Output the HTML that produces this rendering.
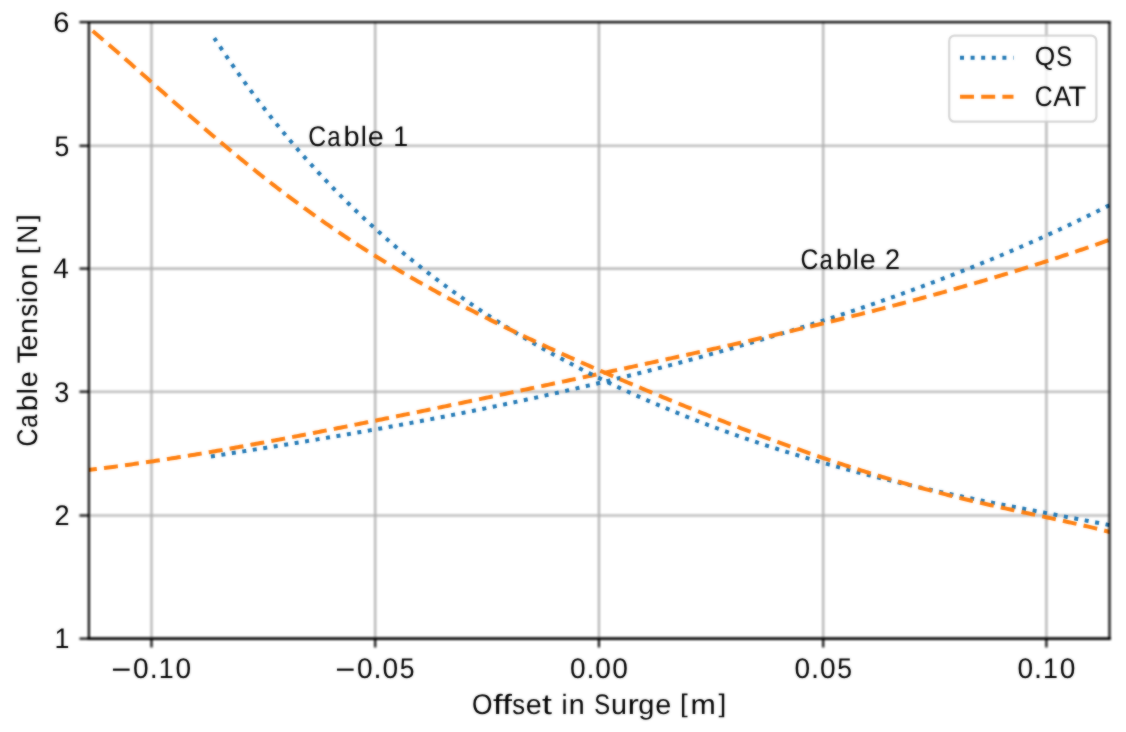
<!DOCTYPE html>
<html><head><meta charset="utf-8"><title>Cable Tension vs Offset in Surge</title><style>
html,body{margin:0;padding:0;background:#fff;width:1126px;height:732px;overflow:hidden}
svg{display:block;position:absolute;left:0;top:0}
text{text-rendering:geometricPrecision}
#wrap{position:relative;width:1126px;height:732px}
#base{will-change:transform}
#soft{filter:blur(0.8px);opacity:0.5}
</style></head><body><div id="wrap">
<svg id="base" width="1126" height="732" viewBox="0 0 1126 732">
<rect width="1126" height="732" fill="#fff"/>
<defs><clipPath id="axa"><rect x="88.9" y="22.1" width="1020.6" height="616.55"/></clipPath>
<filter id="bla" x="-0.02" y="-0.02" width="1.04" height="1.04"><feGaussianBlur stdDeviation="0.9"/></filter></defs>
<g stroke="#b0b0b0" stroke-width="2.13" fill="none" filter="url(#bla)"><line x1="151.50" y1="22.1" x2="151.50" y2="638.65"/><line x1="375.20" y1="22.1" x2="375.20" y2="638.65"/><line x1="598.95" y1="22.1" x2="598.95" y2="638.65"/><line x1="823.20" y1="22.1" x2="823.20" y2="638.65"/><line x1="1046.40" y1="22.1" x2="1046.40" y2="638.65"/><line x1="88.9" y1="515.50" x2="1109.5" y2="515.50"/><line x1="88.9" y1="391.70" x2="1109.5" y2="391.70"/><line x1="88.9" y1="268.60" x2="1109.5" y2="268.60"/><line x1="88.9" y1="145.80" x2="1109.5" y2="145.80"/></g>
<g clip-path="url(#axa)" fill="none" stroke-width="4.00">
<polyline points="210.80,456.46 212.61,456.18 214.41,455.90 216.22,455.62 218.02,455.33 219.83,455.05 221.64,454.77 223.44,454.49 225.25,454.20 227.05,453.92 228.86,453.64 230.67,453.36 232.47,453.07 234.28,452.79 236.08,452.50 237.89,452.22 239.70,451.94 241.50,451.65 243.31,451.37 245.11,451.08 246.92,450.80 248.73,450.51 250.53,450.23 252.34,449.94 254.14,449.65 255.95,449.37 257.76,449.08 259.56,448.79 261.37,448.50 263.17,448.22 264.98,447.93 266.79,447.64 268.59,447.35 270.40,447.06 272.20,446.77 274.01,446.48 275.82,446.19 277.62,445.90 279.43,445.61 281.23,445.32 283.04,445.03 284.85,444.73 286.65,444.44 288.46,444.15 290.26,443.85 292.07,443.56 293.88,443.27 295.68,442.97 297.49,442.67 299.29,442.38 301.10,442.08 302.91,441.79 304.71,441.49 306.52,441.19 308.32,440.89 310.13,440.59 311.94,440.29 313.74,439.99 315.55,439.69 317.35,439.39 319.16,439.09 320.97,438.79 322.77,438.48 324.58,438.18 326.38,437.88 328.19,437.57 330.00,437.27 331.80,436.96 333.61,436.66 335.41,436.35 337.22,436.04 339.03,435.73 340.83,435.43 342.64,435.12 344.44,434.81 346.25,434.50 348.06,434.18 349.86,433.87 351.67,433.56 353.47,433.25 355.28,432.93 357.09,432.62 358.89,432.30 360.70,431.99 362.51,431.67 364.31,431.35 366.12,431.04 367.92,430.72 369.73,430.40 371.54,430.08 373.34,429.76 375.15,429.44 376.95,429.12 378.76,428.79 380.57,428.47 382.37,428.15 384.18,427.82 385.98,427.50 387.79,427.17 389.60,426.84 391.40,426.51 393.21,426.19 395.01,425.86 396.82,425.53 398.63,425.20 400.43,424.86 402.24,424.53 404.04,424.20 405.85,423.86 407.66,423.53 409.46,423.19 411.27,422.86 413.07,422.52 414.88,422.18 416.69,421.84 418.49,421.50 420.30,421.16 422.10,420.82 423.91,420.48 425.72,420.14 427.52,419.80 429.33,419.45 431.13,419.11 432.94,418.76 434.75,418.41 436.55,418.07 438.36,417.72 440.16,417.37 441.97,417.02 443.78,416.67 445.58,416.31 447.39,415.96 449.19,415.61 451.00,415.25 452.81,414.90 454.61,414.54 456.42,414.19 458.22,413.83 460.03,413.47 461.84,413.11 463.64,412.75 465.45,412.39 467.25,412.03 469.06,411.66 470.87,411.30 472.67,410.93 474.48,410.57 476.28,410.20 478.09,409.83 479.90,409.46 481.70,409.09 483.51,408.72 485.31,408.35 487.12,407.98 488.93,407.61 490.73,407.23 492.54,406.86 494.34,406.48 496.15,406.11 497.96,405.73 499.76,405.35 501.57,404.97 503.37,404.59 505.18,404.21 506.99,403.83 508.79,403.44 510.60,403.06 512.40,402.67 514.21,402.29 516.02,401.90 517.82,401.51 519.63,401.12 521.43,400.73 523.24,400.34 525.05,399.95 526.85,399.56 528.66,399.16 530.46,398.77 532.27,398.37 534.08,397.98 535.88,397.58 537.69,397.18 539.49,396.78 541.30,396.38 543.11,395.98 544.91,395.58 546.72,395.17 548.52,394.77 550.33,394.36 552.14,393.96 553.94,393.55 555.75,393.14 557.55,392.73 559.36,392.32 561.17,391.91 562.97,391.50 564.78,391.09 566.58,390.67 568.39,390.26 570.20,389.84 572.00,389.42 573.81,389.00 575.61,388.58 577.42,388.16 579.23,387.74 581.03,387.32 582.84,386.90 584.64,386.47 586.45,386.05 588.26,385.62 590.06,385.19 591.87,384.76 593.67,384.33 595.48,383.90 597.29,383.47 599.09,383.04 600.90,382.61 602.70,382.17 604.51,381.73 606.32,381.30 608.12,380.86 609.93,380.42 611.73,379.98 613.54,379.54 615.35,379.10 617.15,378.66 618.96,378.21 620.76,377.77 622.57,377.32 624.38,376.87 626.18,376.42 627.99,375.97 629.79,375.52 631.60,375.07 633.41,374.62 635.21,374.17 637.02,373.71 638.82,373.25 640.63,372.80 642.44,372.34 644.24,371.88 646.05,371.42 647.85,370.96 649.66,370.50 651.47,370.03 653.27,369.57 655.08,369.10 656.88,368.64 658.69,368.17 660.50,367.70 662.30,367.23 664.11,366.76 665.92,366.29 667.72,365.81 669.53,365.34 671.33,364.86 673.14,364.39 674.95,363.91 676.75,363.43 678.56,362.95 680.36,362.47 682.17,361.98 683.98,361.50 685.78,361.02 687.59,360.53 689.39,360.04 691.20,359.56 693.01,359.07 694.81,358.58 696.62,358.08 698.42,357.59 700.23,357.10 702.04,356.60 703.84,356.11 705.65,355.61 707.45,355.11 709.26,354.61 711.07,354.11 712.87,353.61 714.68,353.11 716.48,352.60 718.29,352.10 720.10,351.59 721.90,351.08 723.71,350.57 725.51,350.06 727.32,349.55 729.13,349.04 730.93,348.52 732.74,348.01 734.54,347.49 736.35,346.97 738.16,346.46 739.96,345.94 741.77,345.41 743.57,344.89 745.38,344.37 747.19,343.84 748.99,343.32 750.80,342.79 752.60,342.26 754.41,341.73 756.22,341.20 758.02,340.67 759.83,340.13 761.63,339.60 763.44,339.06 765.25,338.53 767.05,337.99 768.86,337.45 770.66,336.91 772.47,336.36 774.28,335.82 776.08,335.27 777.89,334.73 779.69,334.18 781.50,333.63 783.31,333.08 785.11,332.53 786.92,331.98 788.72,331.42 790.53,330.87 792.34,330.31 794.14,329.75 795.95,329.19 797.75,328.63 799.56,328.07 801.37,327.50 803.17,326.94 804.98,326.37 806.78,325.81 808.59,325.24 810.40,324.67 812.20,324.09 814.01,323.52 815.81,322.95 817.62,322.37 819.43,321.79 821.23,321.21 823.04,320.63 824.84,320.05 826.65,319.47 828.46,318.88 830.26,318.30 832.07,317.71 833.87,317.12 835.68,316.53 837.49,315.94 839.29,315.34 841.10,314.75 842.90,314.15 844.71,313.55 846.52,312.95 848.32,312.35 850.13,311.75 851.93,311.15 853.74,310.54 855.55,309.94 857.35,309.33 859.16,308.72 860.96,308.11 862.77,307.49 864.58,306.88 866.38,306.26 868.19,305.64 869.99,305.02 871.80,304.40 873.61,303.78 875.41,303.16 877.22,302.53 879.02,301.90 880.83,301.27 882.64,300.64 884.44,300.01 886.25,299.38 888.05,298.74 889.86,298.10 891.67,297.47 893.47,296.83 895.28,296.18 897.08,295.54 898.89,294.89 900.70,294.25 902.50,293.60 904.31,292.95 906.11,292.29 907.92,291.64 909.73,290.98 911.53,290.33 913.34,289.67 915.14,289.01 916.95,288.34 918.76,287.68 920.56,287.01 922.37,286.34 924.17,285.67 925.98,285.00 927.79,284.33 929.59,283.65 931.40,282.97 933.20,282.29 935.01,281.61 936.82,280.93 938.62,280.24 940.43,279.56 942.23,278.87 944.04,278.18 945.85,277.48 947.65,276.79 949.46,276.09 951.26,275.39 953.07,274.69 954.88,273.99 956.68,273.29 958.49,272.58 960.29,271.87 962.10,271.16 963.91,270.45 965.71,269.73 967.52,269.02 969.33,268.30 971.13,267.58 972.94,266.85 974.74,266.13 976.55,265.40 978.36,264.67 980.16,263.94 981.97,263.21 983.77,262.47 985.58,261.73 987.39,260.99 989.19,260.25 991.00,259.51 992.80,258.76 994.61,258.01 996.42,257.26 998.22,256.51 1000.03,255.75 1001.83,254.99 1003.64,254.23 1005.45,253.47 1007.25,252.70 1009.06,251.94 1010.86,251.17 1012.67,250.40 1014.48,249.62 1016.28,248.84 1018.09,248.07 1019.89,247.28 1021.70,246.50 1023.51,245.71 1025.31,244.92 1027.12,244.13 1028.92,243.34 1030.73,242.54 1032.54,241.74 1034.34,240.94 1036.15,240.14 1037.95,239.33 1039.76,238.52 1041.57,237.71 1043.37,236.90 1045.18,236.08 1046.98,235.26 1048.79,234.44 1050.60,233.62 1052.40,232.79 1054.21,231.96 1056.01,231.13 1057.82,230.29 1059.63,229.45 1061.43,228.61 1063.24,227.77 1065.04,226.92 1066.85,226.07 1068.66,225.22 1070.46,224.36 1072.27,223.51 1074.07,222.65 1075.88,221.78 1077.69,220.92 1079.49,220.05 1081.30,219.17 1083.10,218.30 1084.91,217.42 1086.72,216.54 1088.52,215.66 1090.33,214.77 1092.13,213.88 1093.94,212.99 1095.75,212.09 1097.55,211.19 1099.36,210.29 1101.16,209.38 1102.97,208.47 1104.78,207.56 1106.58,206.65 1108.39,205.73 1110.19,204.81 1112.00,203.88" stroke="#1f77b4" stroke-dasharray="4.0 6.6" stroke-dashoffset="10.51"/>
<polyline points="88.00,469.94 90.05,469.70 92.10,469.46 94.16,469.22 96.21,468.97 98.26,468.72 100.31,468.47 102.36,468.22 104.42,467.96 106.47,467.71 108.52,467.44 110.57,467.18 112.63,466.92 114.68,466.65 116.73,466.38 118.78,466.11 120.83,465.83 122.89,465.56 124.94,465.28 126.99,465.00 129.04,464.72 131.09,464.43 133.15,464.14 135.20,463.85 137.25,463.56 139.30,463.27 141.35,462.97 143.41,462.68 145.46,462.38 147.51,462.08 149.56,461.77 151.62,461.47 153.67,461.16 155.72,460.85 157.77,460.54 159.82,460.23 161.88,459.92 163.93,459.60 165.98,459.28 168.03,458.96 170.08,458.64 172.14,458.32 174.19,457.99 176.24,457.67 178.29,457.34 180.34,457.01 182.40,456.68 184.45,456.34 186.50,456.01 188.55,455.67 190.61,455.34 192.66,455.00 194.71,454.66 196.76,454.32 198.81,453.97 200.87,453.63 202.92,453.28 204.97,452.93 207.02,452.59 209.07,452.23 211.13,451.88 213.18,451.53 215.23,451.18 217.28,450.82 219.33,450.46 221.39,450.11 223.44,449.75 225.49,449.39 227.54,449.02 229.60,448.66 231.65,448.30 233.70,447.93 235.75,447.56 237.80,447.20 239.86,446.83 241.91,446.46 243.96,446.09 246.01,445.71 248.06,445.34 250.12,444.97 252.17,444.59 254.22,444.22 256.27,443.84 258.32,443.46 260.38,443.08 262.43,442.70 264.48,442.32 266.53,441.94 268.59,441.56 270.64,441.17 272.69,440.79 274.74,440.40 276.79,440.01 278.85,439.63 280.90,439.24 282.95,438.85 285.00,438.46 287.05,438.07 289.11,437.68 291.16,437.29 293.21,436.89 295.26,436.50 297.31,436.10 299.37,435.71 301.42,435.31 303.47,434.92 305.52,434.52 307.58,434.12 309.63,433.72 311.68,433.32 313.73,432.92 315.78,432.52 317.84,432.12 319.89,431.72 321.94,431.32 323.99,430.91 326.04,430.51 328.10,430.11 330.15,429.70 332.20,429.30 334.25,428.89 336.30,428.48 338.36,428.08 340.41,427.67 342.46,427.26 344.51,426.85 346.57,426.44 348.62,426.03 350.67,425.62 352.72,425.21 354.77,424.80 356.83,424.39 358.88,423.98 360.93,423.56 362.98,423.15 365.03,422.74 367.09,422.32 369.14,421.91 371.19,421.50 373.24,421.08 375.29,420.67 377.35,420.25 379.40,419.83 381.45,419.42 383.50,419.00 385.56,418.58 387.61,418.17 389.66,417.75 391.71,417.33 393.76,416.91 395.82,416.49 397.87,416.07 399.92,415.65 401.97,415.23 404.02,414.81 406.08,414.39 408.13,413.97 410.18,413.55 412.23,413.13 414.28,412.71 416.34,412.28 418.39,411.86 420.44,411.44 422.49,411.02 424.55,410.59 426.60,410.17 428.65,409.75 430.70,409.32 432.75,408.90 434.81,408.47 436.86,408.05 438.91,407.62 440.96,407.20 443.01,406.77 445.07,406.35 447.12,405.92 449.17,405.50 451.22,405.07 453.27,404.65 455.33,404.22 457.38,403.79 459.43,403.37 461.48,402.94 463.54,402.51 465.59,402.08 467.64,401.66 469.69,401.23 471.74,400.80 473.80,400.37 475.85,399.94 477.90,399.51 479.95,399.09 482.00,398.66 484.06,398.23 486.11,397.80 488.16,397.37 490.21,396.94 492.26,396.51 494.32,396.08 496.37,395.65 498.42,395.22 500.47,394.79 502.53,394.36 504.58,393.93 506.63,393.49 508.68,393.06 510.73,392.63 512.79,392.20 514.84,391.77 516.89,391.34 518.94,390.90 520.99,390.47 523.05,390.04 525.10,389.61 527.15,389.17 529.20,388.74 531.25,388.31 533.31,387.88 535.36,387.44 537.41,387.01 539.46,386.57 541.52,386.14 543.57,385.71 545.62,385.27 547.67,384.84 549.72,384.40 551.78,383.97 553.83,383.53 555.88,383.10 557.93,382.66 559.98,382.23 562.04,381.79 564.09,381.36 566.14,380.92 568.19,380.48 570.24,380.05 572.30,379.61 574.35,379.17 576.40,378.74 578.45,378.30 580.51,377.86 582.56,377.42 584.61,376.99 586.66,376.55 588.71,376.11 590.77,375.67 592.82,375.23 594.87,374.79 596.92,374.35 598.97,373.91 601.03,373.47 603.08,373.03 605.13,372.59 607.18,372.15 609.23,371.71 611.29,371.27 613.34,370.83 615.39,370.39 617.44,369.95 619.49,369.51 621.55,369.06 623.60,368.62 625.65,368.18 627.70,367.73 629.76,367.29 631.81,366.85 633.86,366.40 635.91,365.96 637.96,365.51 640.02,365.07 642.07,364.62 644.12,364.18 646.17,363.73 648.22,363.29 650.28,362.84 652.33,362.39 654.38,361.95 656.43,361.50 658.48,361.05 660.54,360.60 662.59,360.15 664.64,359.70 666.69,359.25 668.75,358.80 670.80,358.35 672.85,357.90 674.90,357.45 676.95,357.00 679.01,356.55 681.06,356.10 683.11,355.64 685.16,355.19 687.21,354.74 689.27,354.28 691.32,353.83 693.37,353.37 695.42,352.92 697.47,352.46 699.53,352.01 701.58,351.55 703.63,351.09 705.68,350.63 707.74,350.18 709.79,349.72 711.84,349.26 713.89,348.80 715.94,348.34 718.00,347.88 720.05,347.41 722.10,346.95 724.15,346.49 726.20,346.03 728.26,345.56 730.31,345.10 732.36,344.63 734.41,344.17 736.46,343.70 738.52,343.24 740.57,342.77 742.62,342.30 744.67,341.83 746.73,341.36 748.78,340.89 750.83,340.42 752.88,339.95 754.93,339.48 756.99,339.01 759.04,338.53 761.09,338.06 763.14,337.59 765.19,337.11 767.25,336.64 769.30,336.16 771.35,335.68 773.40,335.20 775.45,334.72 777.51,334.24 779.56,333.76 781.61,333.28 783.66,332.80 785.72,332.32 787.77,331.83 789.82,331.35 791.87,330.87 793.92,330.38 795.98,329.89 798.03,329.40 800.08,328.92 802.13,328.43 804.18,327.94 806.24,327.45 808.29,326.95 810.34,326.46 812.39,325.97 814.44,325.47 816.50,324.98 818.55,324.48 820.60,323.98 822.65,323.48 824.71,322.99 826.76,322.48 828.81,321.98 830.86,321.48 832.91,320.98 834.97,320.47 837.02,319.97 839.07,319.46 841.12,318.95 843.17,318.45 845.23,317.94 847.28,317.43 849.33,316.92 851.38,316.40 853.43,315.89 855.49,315.37 857.54,314.86 859.59,314.34 861.64,313.82 863.70,313.30 865.75,312.78 867.80,312.26 869.85,311.74 871.90,311.21 873.96,310.69 876.01,310.16 878.06,309.64 880.11,309.11 882.16,308.58 884.22,308.05 886.27,307.51 888.32,306.98 890.37,306.45 892.42,305.91 894.48,305.37 896.53,304.83 898.58,304.29 900.63,303.75 902.69,303.21 904.74,302.66 906.79,302.12 908.84,301.57 910.89,301.02 912.95,300.48 915.00,299.92 917.05,299.37 919.10,298.82 921.15,298.26 923.21,297.71 925.26,297.15 927.31,296.59 929.36,296.03 931.41,295.47 933.47,294.90 935.52,294.34 937.57,293.77 939.62,293.20 941.68,292.63 943.73,292.06 945.78,291.49 947.83,290.91 949.88,290.34 951.94,289.76 953.99,289.18 956.04,288.60 958.09,288.02 960.14,287.43 962.20,286.85 964.25,286.26 966.30,285.67 968.35,285.08 970.40,284.49 972.46,283.90 974.51,283.30 976.56,282.70 978.61,282.11 980.67,281.51 982.72,280.90 984.77,280.30 986.82,279.69 988.87,279.09 990.93,278.48 992.98,277.87 995.03,277.25 997.08,276.64 999.13,276.02 1001.19,275.40 1003.24,274.78 1005.29,274.16 1007.34,273.54 1009.39,272.91 1011.45,272.28 1013.50,271.65 1015.55,271.02 1017.60,270.39 1019.66,269.75 1021.71,269.12 1023.76,268.48 1025.81,267.84 1027.86,267.19 1029.92,266.55 1031.97,265.90 1034.02,265.25 1036.07,264.60 1038.12,263.95 1040.18,263.29 1042.23,262.64 1044.28,261.98 1046.33,261.32 1048.38,260.65 1050.44,259.99 1052.49,259.32 1054.54,258.65 1056.59,257.98 1058.65,257.31 1060.70,256.63 1062.75,255.95 1064.80,255.27 1066.85,254.59 1068.91,253.91 1070.96,253.22 1073.01,252.53 1075.06,251.84 1077.11,251.15 1079.17,250.45 1081.22,249.75 1083.27,249.05 1085.32,248.35 1087.37,247.65 1089.43,246.94 1091.48,246.23 1093.53,245.52 1095.58,244.81 1097.64,244.09 1099.69,243.37 1101.74,242.65 1103.79,241.93 1105.84,241.20 1107.90,240.48 1109.95,239.75 1112.00,239.01" stroke="#ff7f0e" stroke-dasharray="14.0 7.19" stroke-dashoffset="5.1"/>
<polyline points="214.30,38.05 216.10,40.80 217.90,43.54 219.70,46.25 221.50,48.95 223.29,51.63 225.09,54.30 226.89,56.95 228.69,59.58 230.49,62.20 232.29,64.80 234.09,67.39 235.89,69.96 237.69,72.51 239.49,75.05 241.28,77.57 243.08,80.08 244.88,82.57 246.68,85.05 248.48,87.51 250.28,89.96 252.08,92.39 253.88,94.80 255.68,97.21 257.48,99.59 259.27,101.97 261.07,104.33 262.87,106.67 264.67,109.00 266.47,111.32 268.27,113.62 270.07,115.91 271.87,118.18 273.67,120.44 275.47,122.69 277.26,124.92 279.06,127.14 280.86,129.35 282.66,131.55 284.46,133.73 286.26,135.89 288.06,138.05 289.86,140.19 291.66,142.32 293.46,144.44 295.25,146.54 297.05,148.63 298.85,150.71 300.65,152.78 302.45,154.84 304.25,156.88 306.05,158.91 307.85,160.93 309.65,162.94 311.45,164.93 313.24,166.91 315.04,168.89 316.84,170.85 318.64,172.80 320.44,174.73 322.24,176.66 324.04,178.58 325.84,180.48 327.64,182.37 329.44,184.26 331.23,186.13 333.03,187.99 334.83,189.84 336.63,191.68 338.43,193.51 340.23,195.32 342.03,197.13 343.83,198.93 345.63,200.72 347.43,202.49 349.22,204.26 351.02,206.02 352.82,207.77 354.62,209.50 356.42,211.23 358.22,212.95 360.02,214.66 361.82,216.36 363.62,218.04 365.42,219.72 367.21,221.39 369.01,223.06 370.81,224.71 372.61,226.35 374.41,227.98 376.21,229.61 378.01,231.22 379.81,232.83 381.61,234.43 383.41,236.02 385.20,237.60 387.00,239.17 388.80,240.73 390.60,242.29 392.40,243.83 394.20,245.37 396.00,246.90 397.80,248.42 399.60,249.93 401.40,251.44 403.19,252.93 404.99,254.42 406.79,255.90 408.59,257.37 410.39,258.84 412.19,260.30 413.99,261.75 415.79,263.19 417.59,264.62 419.39,266.05 421.18,267.47 422.98,268.88 424.78,270.28 426.58,271.68 428.38,273.07 430.18,274.45 431.98,275.82 433.78,277.19 435.58,278.55 437.38,279.90 439.17,281.25 440.97,282.59 442.77,283.92 444.57,285.25 446.37,286.57 448.17,287.88 449.97,289.18 451.77,290.48 453.57,291.78 455.37,293.06 457.16,294.34 458.96,295.61 460.76,296.88 462.56,298.14 464.36,299.39 466.16,300.64 467.96,301.88 469.76,303.12 471.56,304.34 473.36,305.57 475.15,306.78 476.95,307.99 478.75,309.20 480.55,310.40 482.35,311.59 484.15,312.78 485.95,313.96 487.75,315.13 489.55,316.30 491.35,317.47 493.14,318.62 494.94,319.78 496.74,320.92 498.54,322.06 500.34,323.20 502.14,324.33 503.94,325.45 505.74,326.57 507.54,327.69 509.34,328.80 511.13,329.90 512.93,331.00 514.73,332.09 516.53,333.18 518.33,334.26 520.13,335.34 521.93,336.41 523.73,337.48 525.53,338.54 527.33,339.60 529.12,340.65 530.92,341.70 532.72,342.74 534.52,343.78 536.32,344.81 538.12,345.84 539.92,346.87 541.72,347.88 543.52,348.90 545.32,349.91 547.11,350.91 548.91,351.91 550.71,352.91 552.51,353.90 554.31,354.89 556.11,355.87 557.91,356.84 559.71,357.82 561.51,358.79 563.31,359.75 565.10,360.71 566.90,361.67 568.70,362.62 570.50,363.56 572.30,364.51 574.10,365.45 575.90,366.38 577.70,367.31 579.50,368.24 581.30,369.16 583.09,370.08 584.89,370.99 586.69,371.90 588.49,372.80 590.29,373.71 592.09,374.60 593.89,375.50 595.69,376.39 597.49,377.27 599.29,378.15 601.08,379.03 602.88,379.91 604.68,380.78 606.48,381.64 608.28,382.51 610.08,383.36 611.88,384.22 613.68,385.07 615.48,385.92 617.28,386.76 619.07,387.60 620.87,388.44 622.67,389.27 624.47,390.10 626.27,390.93 628.07,391.75 629.87,392.57 631.67,393.38 633.47,394.20 635.27,395.00 637.06,395.81 638.86,396.61 640.66,397.41 642.46,398.20 644.26,398.99 646.06,399.78 647.86,400.56 649.66,401.34 651.46,402.12 653.26,402.89 655.05,403.67 656.85,404.43 658.65,405.20 660.45,405.96 662.25,406.72 664.05,407.47 665.85,408.22 667.65,408.97 669.45,409.71 671.25,410.45 673.04,411.19 674.84,411.93 676.64,412.66 678.44,413.39 680.24,414.11 682.04,414.84 683.84,415.56 685.64,416.27 687.44,416.99 689.24,417.70 691.03,418.40 692.83,419.11 694.63,419.81 696.43,420.51 698.23,421.20 700.03,421.90 701.83,422.59 703.63,423.27 705.43,423.96 707.23,424.64 709.02,425.31 710.82,425.99 712.62,426.66 714.42,427.33 716.22,428.00 718.02,428.66 719.82,429.32 721.62,429.98 723.42,430.63 725.22,431.28 727.01,431.93 728.81,432.58 730.61,433.22 732.41,433.86 734.21,434.50 736.01,435.14 737.81,435.77 739.61,436.40 741.41,437.03 743.21,437.65 745.00,438.27 746.80,438.89 748.60,439.51 750.40,440.12 752.20,440.73 754.00,441.34 755.80,441.95 757.60,442.55 759.40,443.15 761.20,443.75 762.99,444.35 764.79,444.94 766.59,445.53 768.39,446.12 770.19,446.70 771.99,447.29 773.79,447.87 775.59,448.44 777.39,449.02 779.19,449.59 780.98,450.16 782.78,450.73 784.58,451.29 786.38,451.86 788.18,452.42 789.98,452.97 791.78,453.53 793.58,454.08 795.38,454.63 797.18,455.18 798.97,455.73 800.77,456.27 802.57,456.81 804.37,457.35 806.17,457.89 807.97,458.42 809.77,458.95 811.57,459.48 813.37,460.01 815.17,460.53 816.96,461.05 818.76,461.57 820.56,462.09 822.36,462.61 824.16,463.12 825.96,463.63 827.76,464.14 829.56,464.65 831.36,465.15 833.16,465.65 834.95,466.15 836.75,466.65 838.55,467.14 840.35,467.64 842.15,468.13 843.95,468.62 845.75,469.10 847.55,469.59 849.35,470.07 851.15,470.55 852.94,471.03 854.74,471.51 856.54,471.98 858.34,472.45 860.14,472.92 861.94,473.39 863.74,473.85 865.54,474.32 867.34,474.78 869.14,475.24 870.93,475.70 872.73,476.15 874.53,476.61 876.33,477.06 878.13,477.51 879.93,477.96 881.73,478.40 883.53,478.85 885.33,479.29 887.13,479.73 888.92,480.17 890.72,480.60 892.52,481.04 894.32,481.47 896.12,481.90 897.92,482.33 899.72,482.76 901.52,483.19 903.32,483.61 905.12,484.03 906.91,484.45 908.71,484.87 910.51,485.29 912.31,485.70 914.11,486.12 915.91,486.53 917.71,486.94 919.51,487.35 921.31,487.75 923.11,488.16 924.90,488.56 926.70,488.96 928.50,489.36 930.30,489.76 932.10,490.16 933.90,490.56 935.70,490.95 937.50,491.34 939.30,491.74 941.10,492.13 942.89,492.51 944.69,492.90 946.49,493.29 948.29,493.67 950.09,494.05 951.89,494.43 953.69,494.81 955.49,495.19 957.29,495.57 959.09,495.95 960.88,496.32 962.68,496.70 964.48,497.07 966.28,497.44 968.08,497.81 969.88,498.18 971.68,498.54 973.48,498.91 975.28,499.28 977.08,499.64 978.87,500.00 980.67,500.37 982.47,500.73 984.27,501.09 986.07,501.45 987.87,501.80 989.67,502.16 991.47,502.52 993.27,502.87 995.07,503.23 996.86,503.58 998.66,503.93 1000.46,504.28 1002.26,504.64 1004.06,504.99 1005.86,505.33 1007.66,505.68 1009.46,506.03 1011.26,506.38 1013.06,506.73 1014.85,507.07 1016.65,507.42 1018.45,507.76 1020.25,508.11 1022.05,508.45 1023.85,508.79 1025.65,509.14 1027.45,509.48 1029.25,509.82 1031.05,510.16 1032.84,510.50 1034.64,510.84 1036.44,511.18 1038.24,511.52 1040.04,511.86 1041.84,512.20 1043.64,512.54 1045.44,512.88 1047.24,513.22 1049.04,513.56 1050.83,513.90 1052.63,514.24 1054.43,514.58 1056.23,514.92 1058.03,515.26 1059.83,515.60 1061.63,515.93 1063.43,516.27 1065.23,516.61 1067.03,516.95 1068.82,517.29 1070.62,517.63 1072.42,517.97 1074.22,518.32 1076.02,518.66 1077.82,519.00 1079.62,519.34 1081.42,519.68 1083.22,520.03 1085.02,520.37 1086.81,520.72 1088.61,521.06 1090.41,521.41 1092.21,521.75 1094.01,522.10 1095.81,522.45 1097.61,522.80 1099.41,523.15 1101.21,523.50 1103.01,523.85 1104.80,524.20 1106.60,524.55 1108.40,524.91 1110.20,525.26 1112.00,525.62" stroke="#1f77b4" stroke-dasharray="4.0 6.6" stroke-dashoffset="0.22"/>
<polyline points="88.00,27.07 90.05,28.77 92.10,30.49 94.16,32.21 96.21,33.93 98.26,35.66 100.31,37.40 102.36,39.15 104.42,40.90 106.47,42.66 108.52,44.42 110.57,46.19 112.63,47.96 114.68,49.74 116.73,51.52 118.78,53.31 120.83,55.09 122.89,56.89 124.94,58.68 126.99,60.48 129.04,62.28 131.09,64.09 133.15,65.89 135.20,67.70 137.25,69.51 139.30,71.32 141.35,73.13 143.41,74.94 145.46,76.76 147.51,78.57 149.56,80.39 151.62,82.20 153.67,84.02 155.72,85.83 157.77,87.65 159.82,89.46 161.88,91.28 163.93,93.09 165.98,94.90 168.03,96.71 170.08,98.52 172.14,100.33 174.19,102.13 176.24,103.93 178.29,105.74 180.34,107.53 182.40,109.33 184.45,111.13 186.50,112.92 188.55,114.71 190.61,116.49 192.66,118.28 194.71,120.05 196.76,121.83 198.81,123.60 200.87,125.37 202.92,127.14 204.97,128.90 207.02,130.66 209.07,132.41 211.13,134.16 213.18,135.91 215.23,137.65 217.28,139.39 219.33,141.12 221.39,142.85 223.44,144.57 225.49,146.29 227.54,148.00 229.60,149.71 231.65,151.42 233.70,153.11 235.75,154.81 237.80,156.50 239.86,158.18 241.91,159.86 243.96,161.53 246.01,163.20 248.06,164.86 250.12,166.51 252.17,168.16 254.22,169.81 256.27,171.45 258.32,173.08 260.38,174.71 262.43,176.33 264.48,177.94 266.53,179.55 268.59,181.16 270.64,182.75 272.69,184.35 274.74,185.93 276.79,187.51 278.85,189.08 280.90,190.65 282.95,192.21 285.00,193.77 287.05,195.32 289.11,196.86 291.16,198.39 293.21,199.92 295.26,201.45 297.31,202.96 299.37,204.48 301.42,205.98 303.47,207.48 305.52,208.97 307.58,210.46 309.63,211.94 311.68,213.41 313.73,214.87 315.78,216.34 317.84,217.79 319.89,219.24 321.94,220.68 323.99,222.11 326.04,223.54 328.10,224.97 330.15,226.38 332.20,227.79 334.25,229.20 336.30,230.59 338.36,231.99 340.41,233.37 342.46,234.75 344.51,236.12 346.57,237.49 348.62,238.85 350.67,240.20 352.72,241.55 354.77,242.90 356.83,244.23 358.88,245.56 360.93,246.89 362.98,248.21 365.03,249.52 367.09,250.83 369.14,252.13 371.19,253.42 373.24,254.71 375.29,255.99 377.35,257.27 379.40,258.54 381.45,259.81 383.50,261.07 385.56,262.33 387.61,263.58 389.66,264.82 391.71,266.06 393.76,267.29 395.82,268.52 397.87,269.74 399.92,270.96 401.97,272.17 404.02,273.38 406.08,274.58 408.13,275.78 410.18,276.97 412.23,278.15 414.28,279.33 416.34,280.51 418.39,281.68 420.44,282.84 422.49,284.01 424.55,285.16 426.60,286.31 428.65,287.46 430.70,288.60 432.75,289.74 434.81,290.87 436.86,292.00 438.91,293.12 440.96,294.24 443.01,295.36 445.07,296.47 447.12,297.57 449.17,298.67 451.22,299.77 453.27,300.86 455.33,301.95 457.38,303.03 459.43,304.11 461.48,305.19 463.54,306.26 465.59,307.33 467.64,308.40 469.69,309.46 471.74,310.51 473.80,311.56 475.85,312.61 477.90,313.66 479.95,314.70 482.00,315.74 484.06,316.77 486.11,317.80 488.16,318.83 490.21,319.85 492.26,320.87 494.32,321.89 496.37,322.91 498.42,323.92 500.47,324.92 502.53,325.93 504.58,326.93 506.63,327.93 508.68,328.92 510.73,329.91 512.79,330.90 514.84,331.89 516.89,332.87 518.94,333.85 520.99,334.82 523.05,335.80 525.10,336.77 527.15,337.74 529.20,338.70 531.25,339.67 533.31,340.63 535.36,341.59 537.41,342.54 539.46,343.49 541.52,344.44 543.57,345.39 545.62,346.34 547.67,347.28 549.72,348.22 551.78,349.16 553.83,350.09 555.88,351.03 557.93,351.96 559.98,352.89 562.04,353.82 564.09,354.74 566.14,355.66 568.19,356.58 570.24,357.50 572.30,358.42 574.35,359.33 576.40,360.25 578.45,361.16 580.51,362.07 582.56,362.97 584.61,363.88 586.66,364.78 588.71,365.68 590.77,366.58 592.82,367.48 594.87,368.37 596.92,369.27 598.97,370.16 601.03,371.05 603.08,371.94 605.13,372.83 607.18,373.71 609.23,374.60 611.29,375.48 613.34,376.36 615.39,377.24 617.44,378.11 619.49,378.99 621.55,379.86 623.60,380.74 625.65,381.61 627.70,382.48 629.76,383.35 631.81,384.21 633.86,385.08 635.91,385.94 637.96,386.80 640.02,387.66 642.07,388.52 644.12,389.38 646.17,390.24 648.22,391.09 650.28,391.94 652.33,392.80 654.38,393.65 656.43,394.49 658.48,395.34 660.54,396.19 662.59,397.03 664.64,397.88 666.69,398.72 668.75,399.56 670.80,400.40 672.85,401.23 674.90,402.07 676.95,402.91 679.01,403.74 681.06,404.57 683.11,405.40 685.16,406.23 687.21,407.06 689.27,407.88 691.32,408.71 693.37,409.53 695.42,410.35 697.47,411.17 699.53,411.99 701.58,412.81 703.63,413.62 705.68,414.44 707.74,415.25 709.79,416.06 711.84,416.87 713.89,417.68 715.94,418.48 718.00,419.29 720.05,420.09 722.10,420.89 724.15,421.69 726.20,422.49 728.26,423.28 730.31,424.08 732.36,424.87 734.41,425.66 736.46,426.45 738.52,427.24 740.57,428.03 742.62,428.81 744.67,429.59 746.73,430.37 748.78,431.15 750.83,431.93 752.88,432.70 754.93,433.48 756.99,434.25 759.04,435.02 761.09,435.79 763.14,436.55 765.19,437.31 767.25,438.08 769.30,438.84 771.35,439.59 773.40,440.35 775.45,441.10 777.51,441.85 779.56,442.60 781.61,443.35 783.66,444.09 785.72,444.84 787.77,445.58 789.82,446.31 791.87,447.05 793.92,447.78 795.98,448.51 798.03,449.24 800.08,449.97 802.13,450.69 804.18,451.42 806.24,452.14 808.29,452.85 810.34,453.57 812.39,454.28 814.44,454.99 816.50,455.70 818.55,456.40 820.60,457.10 822.65,457.80 824.71,458.50 826.76,459.19 828.81,459.88 830.86,460.57 832.91,461.26 834.97,461.94 837.02,462.62 839.07,463.30 841.12,463.97 843.17,464.65 845.23,465.32 847.28,465.98 849.33,466.65 851.38,467.31 853.43,467.96 855.49,468.62 857.54,469.27 859.59,469.92 861.64,470.57 863.70,471.21 865.75,471.85 867.80,472.49 869.85,473.12 871.90,473.75 873.96,474.38 876.01,475.01 878.06,475.63 880.11,476.25 882.16,476.86 884.22,477.48 886.27,478.09 888.32,478.69 890.37,479.30 892.42,479.90 894.48,480.50 896.53,481.09 898.58,481.68 900.63,482.27 902.69,482.85 904.74,483.44 906.79,484.01 908.84,484.59 910.89,485.16 912.95,485.73 915.00,486.30 917.05,486.86 919.10,487.42 921.15,487.98 923.21,488.53 925.26,489.08 927.31,489.63 929.36,490.17 931.41,490.72 933.47,491.25 935.52,491.79 937.57,492.32 939.62,492.85 941.68,493.38 943.73,493.90 945.78,494.42 947.83,494.94 949.88,495.46 951.94,495.97 953.99,496.48 956.04,496.98 958.09,497.49 960.14,497.99 962.20,498.49 964.25,498.98 966.30,499.48 968.35,499.97 970.40,500.45 972.46,500.94 974.51,501.42 976.56,501.90 978.61,502.38 980.67,502.86 982.72,503.33 984.77,503.80 986.82,504.27 988.87,504.74 990.93,505.20 992.98,505.67 995.03,506.13 997.08,506.59 999.13,507.05 1001.19,507.50 1003.24,507.96 1005.29,508.41 1007.34,508.86 1009.39,509.31 1011.45,509.76 1013.50,510.21 1015.55,510.65 1017.60,511.10 1019.66,511.54 1021.71,511.99 1023.76,512.43 1025.81,512.87 1027.86,513.31 1029.92,513.75 1031.97,514.19 1034.02,514.63 1036.07,515.08 1038.12,515.52 1040.18,515.96 1042.23,516.40 1044.28,516.84 1046.33,517.28 1048.38,517.72 1050.44,518.16 1052.49,518.61 1054.54,519.05 1056.59,519.50 1058.65,519.94 1060.70,520.39 1062.75,520.84 1064.80,521.29 1066.85,521.75 1068.91,522.20 1070.96,522.66 1073.01,523.12 1075.06,523.58 1077.11,524.05 1079.17,524.51 1081.22,524.99 1083.27,525.46 1085.32,525.94 1087.37,526.42 1089.43,526.90 1091.48,527.39 1093.53,527.89 1095.58,528.38 1097.64,528.89 1099.69,529.39 1101.74,529.91 1103.79,530.42 1105.84,530.95 1107.90,531.48 1109.95,532.01 1112.00,532.55" stroke="#ff7f0e" stroke-dasharray="14.0 7.19" stroke-dashoffset="15.05"/>
</g>
<g filter="url(#bla)">
<g stroke="#000" fill="none" stroke-linecap="square">
<line x1="88.9" y1="22.1" x2="88.9" y2="638.65" stroke-width="2.13"/>
<line x1="1109.5" y1="22.1" x2="1109.5" y2="638.65" stroke-width="2.13"/>
<line x1="88.9" y1="22.1" x2="1109.5" y2="22.1" stroke-width="2.13"/>
<line x1="88.9" y1="638.65" x2="1109.5" y2="638.65" stroke-width="2.8"/>
</g>
<g stroke="#000" stroke-width="2.13"><line x1="151.50" y1="638.65" x2="151.50" y2="647.45"/><line x1="375.20" y1="638.65" x2="375.20" y2="647.45"/><line x1="598.95" y1="638.65" x2="598.95" y2="647.45"/><line x1="823.20" y1="638.65" x2="823.20" y2="647.45"/><line x1="1046.40" y1="638.65" x2="1046.40" y2="647.45"/><line x1="79.50" y1="638.65" x2="88.9" y2="638.65"/><line x1="79.50" y1="515.50" x2="88.9" y2="515.50"/><line x1="79.50" y1="391.70" x2="88.9" y2="391.70"/><line x1="79.50" y1="268.60" x2="88.9" y2="268.60"/><line x1="79.50" y1="145.80" x2="88.9" y2="145.80"/><line x1="79.50" y1="22.10" x2="88.9" y2="22.10"/></g>
</g>
<rect x="949.2" y="35.6" width="147.2" height="86.1" rx="5.3" fill="#fff" fill-opacity="0.8" stroke="#cccccc" stroke-opacity="0.8" stroke-width="2.2"/>
<line x1="960.0" y1="57.8" x2="1013.5" y2="57.8" stroke="#1f77b4" stroke-width="4.00" stroke-dasharray="4.0 6.6"/>
<line x1="960.0" y1="96.7" x2="1013.5" y2="96.7" stroke="#ff7f0e" stroke-width="4.00" stroke-dasharray="14.0 7.19"/>
<g fill="#000" font-size="27.2" font-family="Liberation Sans, sans-serif"><text transform="translate(54.48,648.45) scale(0.9871,1.0389)">1</text><text transform="translate(54.39,525.30) scale(0.9962,1.0421)">2</text><text transform="translate(54.27,401.60) scale(0.9925,1.0473)">3</text><text transform="translate(53.29,278.40) scale(1.0336,1.0389)">4</text><text transform="translate(54.46,155.70) scale(0.9754,1.0442)">5</text><text transform="translate(53.20,32.00) scale(1.0696,1.0473)">6</text><text transform="translate(111.24,679.57) scale(1.2632,1.1416)">−</text><text transform="translate(133.12,677.70) scale(1.0335,1.0473)">0</text><text transform="translate(149.64,677.60) scale(1.0608,1.1371)">.</text><text transform="translate(158.78,677.60) scale(0.9871,1.0389)">1</text><text transform="translate(175.53,677.70) scale(1.0335,1.0473)">0</text><text transform="translate(335.22,679.57) scale(1.2632,1.1416)">−</text><text transform="translate(357.10,677.70) scale(1.0335,1.0473)">0</text><text transform="translate(373.62,677.60) scale(1.0608,1.1371)">.</text><text transform="translate(382.54,677.70) scale(1.0335,1.0473)">0</text><text transform="translate(399.84,677.70) scale(0.9754,1.0442)">5</text><text transform="translate(569.93,677.70) scale(1.0335,1.0473)">0</text><text transform="translate(586.45,677.60) scale(1.0608,1.1371)">.</text><text transform="translate(595.37,677.70) scale(1.0335,1.0473)">0</text><text transform="translate(612.34,677.70) scale(1.0335,1.0473)">0</text><text transform="translate(794.46,677.70) scale(1.0335,1.0473)">0</text><text transform="translate(810.98,677.60) scale(1.0608,1.1371)">.</text><text transform="translate(819.90,677.70) scale(1.0335,1.0473)">0</text><text transform="translate(837.20,677.70) scale(0.9754,1.0442)">5</text><text transform="translate(1017.38,677.70) scale(1.0335,1.0473)">0</text><text transform="translate(1033.90,677.60) scale(1.0608,1.1371)">.</text><text transform="translate(1043.05,677.60) scale(0.9871,1.0389)">1</text><text transform="translate(1059.79,677.70) scale(1.0335,1.0473)">0</text><text transform="translate(472.09,714.10) scale(0.9692,1.0473)">O</text><text transform="translate(492.95,714.00) scale(1.2873,1.0294)">f</text><text transform="translate(502.34,714.00) scale(1.2873,1.0294)">f</text><text transform="translate(512.35,714.10) scale(0.9398,1.0303)">s</text><text transform="translate(525.75,714.10) scale(1.0590,1.0276)">e</text><text transform="translate(542.09,713.78) scale(1.3103,1.0521)">t</text><text transform="translate(561.53,714.00) scale(1.0022,1.0280)">i</text><text transform="translate(568.77,714.00) scale(1.0570,1.0204)">n</text><text transform="translate(594.31,714.10) scale(0.8740,1.0473)">S</text><text transform="translate(610.96,714.10) scale(1.0570,1.0462)">u</text><text transform="translate(627.61,714.00) scale(1.2561,1.0204)">r</text><text transform="translate(638.21,713.84) scale(1.0656,1.0119)">g</text><text transform="translate(655.13,714.10) scale(1.0590,1.0276)">e</text><text transform="translate(680.08,712.22) scale(1.0214,0.9378)">[</text><text transform="translate(690.57,714.00) scale(1.1170,1.0204)">m</text><text transform="translate(718.52,712.22) scale(1.0214,0.9378)">]</text><g transform="translate(36.9,330.75) rotate(-90)"><text transform="translate(-115.86,0.10) scale(0.9101,1.0473)">C</text><text transform="translate(-96.90,0.10) scale(0.8816,1.0276)">a</text><text transform="translate(-80.59,0.10) scale(1.0666,1.0332)">b</text><text transform="translate(-63.54,0.00) scale(1.0022,1.0280)">l</text><text transform="translate(-56.56,0.10) scale(1.0590,1.0276)">e</text><text transform="translate(-32.65,0.00) scale(1.0693,1.0389)">T</text><text transform="translate(-19.92,0.10) scale(1.0590,1.0276)">e</text><text transform="translate(-3.24,0.00) scale(1.0570,1.0204)">n</text><text transform="translate(13.88,0.10) scale(0.9398,1.0303)">s</text><text transform="translate(27.73,0.00) scale(1.0022,1.0280)">i</text><text transform="translate(34.73,0.10) scale(1.0422,1.0276)">o</text><text transform="translate(51.27,0.00) scale(1.0570,1.0204)">n</text><text transform="translate(76.45,-1.78) scale(1.0214,0.9378)">[</text><text transform="translate(87.00,0.00) scale(0.9684,1.0389)">N</text><text transform="translate(108.87,-1.78) scale(1.0214,0.9378)">]</text></g><text transform="translate(308.34,145.90) scale(0.9101,1.0473)">C</text><text transform="translate(327.30,145.90) scale(0.8816,1.0276)">a</text><text transform="translate(343.61,145.90) scale(1.0666,1.0332)">b</text><text transform="translate(360.66,145.80) scale(1.0022,1.0280)">l</text><text transform="translate(367.65,145.90) scale(1.0590,1.0276)">e</text><text transform="translate(393.17,145.80) scale(0.9871,1.0389)">1</text><text transform="translate(800.54,268.70) scale(0.9101,1.0473)">C</text><text transform="translate(819.50,268.70) scale(0.8816,1.0276)">a</text><text transform="translate(835.81,268.70) scale(1.0666,1.0332)">b</text><text transform="translate(852.86,268.60) scale(1.0022,1.0280)">l</text><text transform="translate(859.85,268.70) scale(1.0590,1.0276)">e</text><text transform="translate(885.07,268.60) scale(0.9962,1.0421)">2</text><text transform="translate(1034.75,64.59) scale(0.9692,0.9626)">Q</text><text transform="translate(1056.17,66.20) scale(0.8740,1.0473)">S</text><text transform="translate(1034.74,105.80) scale(0.9101,1.0473)">C</text><text transform="translate(1053.28,105.70) scale(0.9876,1.0389)">A</text><text transform="translate(1068.56,105.70) scale(1.0693,1.0389)">T</text></g>
</svg>
<svg id="soft" width="1126" height="732" viewBox="0 0 1126 732">
<rect width="1126" height="732" fill="#fff"/>
<defs><clipPath id="axb"><rect x="88.9" y="22.1" width="1020.6" height="616.55"/></clipPath>
<filter id="blb" x="-0.02" y="-0.02" width="1.04" height="1.04"><feGaussianBlur stdDeviation="0.9"/></filter></defs>
<g stroke="#b0b0b0" stroke-width="2.13" fill="none"><line x1="151.50" y1="22.1" x2="151.50" y2="638.65"/><line x1="375.20" y1="22.1" x2="375.20" y2="638.65"/><line x1="598.95" y1="22.1" x2="598.95" y2="638.65"/><line x1="823.20" y1="22.1" x2="823.20" y2="638.65"/><line x1="1046.40" y1="22.1" x2="1046.40" y2="638.65"/><line x1="88.9" y1="515.50" x2="1109.5" y2="515.50"/><line x1="88.9" y1="391.70" x2="1109.5" y2="391.70"/><line x1="88.9" y1="268.60" x2="1109.5" y2="268.60"/><line x1="88.9" y1="145.80" x2="1109.5" y2="145.80"/></g>
<g clip-path="url(#axb)" fill="none" stroke-width="4.00">
<polyline points="210.80,456.46 212.61,456.18 214.41,455.90 216.22,455.62 218.02,455.33 219.83,455.05 221.64,454.77 223.44,454.49 225.25,454.20 227.05,453.92 228.86,453.64 230.67,453.36 232.47,453.07 234.28,452.79 236.08,452.50 237.89,452.22 239.70,451.94 241.50,451.65 243.31,451.37 245.11,451.08 246.92,450.80 248.73,450.51 250.53,450.23 252.34,449.94 254.14,449.65 255.95,449.37 257.76,449.08 259.56,448.79 261.37,448.50 263.17,448.22 264.98,447.93 266.79,447.64 268.59,447.35 270.40,447.06 272.20,446.77 274.01,446.48 275.82,446.19 277.62,445.90 279.43,445.61 281.23,445.32 283.04,445.03 284.85,444.73 286.65,444.44 288.46,444.15 290.26,443.85 292.07,443.56 293.88,443.27 295.68,442.97 297.49,442.67 299.29,442.38 301.10,442.08 302.91,441.79 304.71,441.49 306.52,441.19 308.32,440.89 310.13,440.59 311.94,440.29 313.74,439.99 315.55,439.69 317.35,439.39 319.16,439.09 320.97,438.79 322.77,438.48 324.58,438.18 326.38,437.88 328.19,437.57 330.00,437.27 331.80,436.96 333.61,436.66 335.41,436.35 337.22,436.04 339.03,435.73 340.83,435.43 342.64,435.12 344.44,434.81 346.25,434.50 348.06,434.18 349.86,433.87 351.67,433.56 353.47,433.25 355.28,432.93 357.09,432.62 358.89,432.30 360.70,431.99 362.51,431.67 364.31,431.35 366.12,431.04 367.92,430.72 369.73,430.40 371.54,430.08 373.34,429.76 375.15,429.44 376.95,429.12 378.76,428.79 380.57,428.47 382.37,428.15 384.18,427.82 385.98,427.50 387.79,427.17 389.60,426.84 391.40,426.51 393.21,426.19 395.01,425.86 396.82,425.53 398.63,425.20 400.43,424.86 402.24,424.53 404.04,424.20 405.85,423.86 407.66,423.53 409.46,423.19 411.27,422.86 413.07,422.52 414.88,422.18 416.69,421.84 418.49,421.50 420.30,421.16 422.10,420.82 423.91,420.48 425.72,420.14 427.52,419.80 429.33,419.45 431.13,419.11 432.94,418.76 434.75,418.41 436.55,418.07 438.36,417.72 440.16,417.37 441.97,417.02 443.78,416.67 445.58,416.31 447.39,415.96 449.19,415.61 451.00,415.25 452.81,414.90 454.61,414.54 456.42,414.19 458.22,413.83 460.03,413.47 461.84,413.11 463.64,412.75 465.45,412.39 467.25,412.03 469.06,411.66 470.87,411.30 472.67,410.93 474.48,410.57 476.28,410.20 478.09,409.83 479.90,409.46 481.70,409.09 483.51,408.72 485.31,408.35 487.12,407.98 488.93,407.61 490.73,407.23 492.54,406.86 494.34,406.48 496.15,406.11 497.96,405.73 499.76,405.35 501.57,404.97 503.37,404.59 505.18,404.21 506.99,403.83 508.79,403.44 510.60,403.06 512.40,402.67 514.21,402.29 516.02,401.90 517.82,401.51 519.63,401.12 521.43,400.73 523.24,400.34 525.05,399.95 526.85,399.56 528.66,399.16 530.46,398.77 532.27,398.37 534.08,397.98 535.88,397.58 537.69,397.18 539.49,396.78 541.30,396.38 543.11,395.98 544.91,395.58 546.72,395.17 548.52,394.77 550.33,394.36 552.14,393.96 553.94,393.55 555.75,393.14 557.55,392.73 559.36,392.32 561.17,391.91 562.97,391.50 564.78,391.09 566.58,390.67 568.39,390.26 570.20,389.84 572.00,389.42 573.81,389.00 575.61,388.58 577.42,388.16 579.23,387.74 581.03,387.32 582.84,386.90 584.64,386.47 586.45,386.05 588.26,385.62 590.06,385.19 591.87,384.76 593.67,384.33 595.48,383.90 597.29,383.47 599.09,383.04 600.90,382.61 602.70,382.17 604.51,381.73 606.32,381.30 608.12,380.86 609.93,380.42 611.73,379.98 613.54,379.54 615.35,379.10 617.15,378.66 618.96,378.21 620.76,377.77 622.57,377.32 624.38,376.87 626.18,376.42 627.99,375.97 629.79,375.52 631.60,375.07 633.41,374.62 635.21,374.17 637.02,373.71 638.82,373.25 640.63,372.80 642.44,372.34 644.24,371.88 646.05,371.42 647.85,370.96 649.66,370.50 651.47,370.03 653.27,369.57 655.08,369.10 656.88,368.64 658.69,368.17 660.50,367.70 662.30,367.23 664.11,366.76 665.92,366.29 667.72,365.81 669.53,365.34 671.33,364.86 673.14,364.39 674.95,363.91 676.75,363.43 678.56,362.95 680.36,362.47 682.17,361.98 683.98,361.50 685.78,361.02 687.59,360.53 689.39,360.04 691.20,359.56 693.01,359.07 694.81,358.58 696.62,358.08 698.42,357.59 700.23,357.10 702.04,356.60 703.84,356.11 705.65,355.61 707.45,355.11 709.26,354.61 711.07,354.11 712.87,353.61 714.68,353.11 716.48,352.60 718.29,352.10 720.10,351.59 721.90,351.08 723.71,350.57 725.51,350.06 727.32,349.55 729.13,349.04 730.93,348.52 732.74,348.01 734.54,347.49 736.35,346.97 738.16,346.46 739.96,345.94 741.77,345.41 743.57,344.89 745.38,344.37 747.19,343.84 748.99,343.32 750.80,342.79 752.60,342.26 754.41,341.73 756.22,341.20 758.02,340.67 759.83,340.13 761.63,339.60 763.44,339.06 765.25,338.53 767.05,337.99 768.86,337.45 770.66,336.91 772.47,336.36 774.28,335.82 776.08,335.27 777.89,334.73 779.69,334.18 781.50,333.63 783.31,333.08 785.11,332.53 786.92,331.98 788.72,331.42 790.53,330.87 792.34,330.31 794.14,329.75 795.95,329.19 797.75,328.63 799.56,328.07 801.37,327.50 803.17,326.94 804.98,326.37 806.78,325.81 808.59,325.24 810.40,324.67 812.20,324.09 814.01,323.52 815.81,322.95 817.62,322.37 819.43,321.79 821.23,321.21 823.04,320.63 824.84,320.05 826.65,319.47 828.46,318.88 830.26,318.30 832.07,317.71 833.87,317.12 835.68,316.53 837.49,315.94 839.29,315.34 841.10,314.75 842.90,314.15 844.71,313.55 846.52,312.95 848.32,312.35 850.13,311.75 851.93,311.15 853.74,310.54 855.55,309.94 857.35,309.33 859.16,308.72 860.96,308.11 862.77,307.49 864.58,306.88 866.38,306.26 868.19,305.64 869.99,305.02 871.80,304.40 873.61,303.78 875.41,303.16 877.22,302.53 879.02,301.90 880.83,301.27 882.64,300.64 884.44,300.01 886.25,299.38 888.05,298.74 889.86,298.10 891.67,297.47 893.47,296.83 895.28,296.18 897.08,295.54 898.89,294.89 900.70,294.25 902.50,293.60 904.31,292.95 906.11,292.29 907.92,291.64 909.73,290.98 911.53,290.33 913.34,289.67 915.14,289.01 916.95,288.34 918.76,287.68 920.56,287.01 922.37,286.34 924.17,285.67 925.98,285.00 927.79,284.33 929.59,283.65 931.40,282.97 933.20,282.29 935.01,281.61 936.82,280.93 938.62,280.24 940.43,279.56 942.23,278.87 944.04,278.18 945.85,277.48 947.65,276.79 949.46,276.09 951.26,275.39 953.07,274.69 954.88,273.99 956.68,273.29 958.49,272.58 960.29,271.87 962.10,271.16 963.91,270.45 965.71,269.73 967.52,269.02 969.33,268.30 971.13,267.58 972.94,266.85 974.74,266.13 976.55,265.40 978.36,264.67 980.16,263.94 981.97,263.21 983.77,262.47 985.58,261.73 987.39,260.99 989.19,260.25 991.00,259.51 992.80,258.76 994.61,258.01 996.42,257.26 998.22,256.51 1000.03,255.75 1001.83,254.99 1003.64,254.23 1005.45,253.47 1007.25,252.70 1009.06,251.94 1010.86,251.17 1012.67,250.40 1014.48,249.62 1016.28,248.84 1018.09,248.07 1019.89,247.28 1021.70,246.50 1023.51,245.71 1025.31,244.92 1027.12,244.13 1028.92,243.34 1030.73,242.54 1032.54,241.74 1034.34,240.94 1036.15,240.14 1037.95,239.33 1039.76,238.52 1041.57,237.71 1043.37,236.90 1045.18,236.08 1046.98,235.26 1048.79,234.44 1050.60,233.62 1052.40,232.79 1054.21,231.96 1056.01,231.13 1057.82,230.29 1059.63,229.45 1061.43,228.61 1063.24,227.77 1065.04,226.92 1066.85,226.07 1068.66,225.22 1070.46,224.36 1072.27,223.51 1074.07,222.65 1075.88,221.78 1077.69,220.92 1079.49,220.05 1081.30,219.17 1083.10,218.30 1084.91,217.42 1086.72,216.54 1088.52,215.66 1090.33,214.77 1092.13,213.88 1093.94,212.99 1095.75,212.09 1097.55,211.19 1099.36,210.29 1101.16,209.38 1102.97,208.47 1104.78,207.56 1106.58,206.65 1108.39,205.73 1110.19,204.81 1112.00,203.88" stroke="#1f77b4" stroke-dasharray="4.0 6.6" stroke-dashoffset="10.51"/>
<polyline points="88.00,469.94 90.05,469.70 92.10,469.46 94.16,469.22 96.21,468.97 98.26,468.72 100.31,468.47 102.36,468.22 104.42,467.96 106.47,467.71 108.52,467.44 110.57,467.18 112.63,466.92 114.68,466.65 116.73,466.38 118.78,466.11 120.83,465.83 122.89,465.56 124.94,465.28 126.99,465.00 129.04,464.72 131.09,464.43 133.15,464.14 135.20,463.85 137.25,463.56 139.30,463.27 141.35,462.97 143.41,462.68 145.46,462.38 147.51,462.08 149.56,461.77 151.62,461.47 153.67,461.16 155.72,460.85 157.77,460.54 159.82,460.23 161.88,459.92 163.93,459.60 165.98,459.28 168.03,458.96 170.08,458.64 172.14,458.32 174.19,457.99 176.24,457.67 178.29,457.34 180.34,457.01 182.40,456.68 184.45,456.34 186.50,456.01 188.55,455.67 190.61,455.34 192.66,455.00 194.71,454.66 196.76,454.32 198.81,453.97 200.87,453.63 202.92,453.28 204.97,452.93 207.02,452.59 209.07,452.23 211.13,451.88 213.18,451.53 215.23,451.18 217.28,450.82 219.33,450.46 221.39,450.11 223.44,449.75 225.49,449.39 227.54,449.02 229.60,448.66 231.65,448.30 233.70,447.93 235.75,447.56 237.80,447.20 239.86,446.83 241.91,446.46 243.96,446.09 246.01,445.71 248.06,445.34 250.12,444.97 252.17,444.59 254.22,444.22 256.27,443.84 258.32,443.46 260.38,443.08 262.43,442.70 264.48,442.32 266.53,441.94 268.59,441.56 270.64,441.17 272.69,440.79 274.74,440.40 276.79,440.01 278.85,439.63 280.90,439.24 282.95,438.85 285.00,438.46 287.05,438.07 289.11,437.68 291.16,437.29 293.21,436.89 295.26,436.50 297.31,436.10 299.37,435.71 301.42,435.31 303.47,434.92 305.52,434.52 307.58,434.12 309.63,433.72 311.68,433.32 313.73,432.92 315.78,432.52 317.84,432.12 319.89,431.72 321.94,431.32 323.99,430.91 326.04,430.51 328.10,430.11 330.15,429.70 332.20,429.30 334.25,428.89 336.30,428.48 338.36,428.08 340.41,427.67 342.46,427.26 344.51,426.85 346.57,426.44 348.62,426.03 350.67,425.62 352.72,425.21 354.77,424.80 356.83,424.39 358.88,423.98 360.93,423.56 362.98,423.15 365.03,422.74 367.09,422.32 369.14,421.91 371.19,421.50 373.24,421.08 375.29,420.67 377.35,420.25 379.40,419.83 381.45,419.42 383.50,419.00 385.56,418.58 387.61,418.17 389.66,417.75 391.71,417.33 393.76,416.91 395.82,416.49 397.87,416.07 399.92,415.65 401.97,415.23 404.02,414.81 406.08,414.39 408.13,413.97 410.18,413.55 412.23,413.13 414.28,412.71 416.34,412.28 418.39,411.86 420.44,411.44 422.49,411.02 424.55,410.59 426.60,410.17 428.65,409.75 430.70,409.32 432.75,408.90 434.81,408.47 436.86,408.05 438.91,407.62 440.96,407.20 443.01,406.77 445.07,406.35 447.12,405.92 449.17,405.50 451.22,405.07 453.27,404.65 455.33,404.22 457.38,403.79 459.43,403.37 461.48,402.94 463.54,402.51 465.59,402.08 467.64,401.66 469.69,401.23 471.74,400.80 473.80,400.37 475.85,399.94 477.90,399.51 479.95,399.09 482.00,398.66 484.06,398.23 486.11,397.80 488.16,397.37 490.21,396.94 492.26,396.51 494.32,396.08 496.37,395.65 498.42,395.22 500.47,394.79 502.53,394.36 504.58,393.93 506.63,393.49 508.68,393.06 510.73,392.63 512.79,392.20 514.84,391.77 516.89,391.34 518.94,390.90 520.99,390.47 523.05,390.04 525.10,389.61 527.15,389.17 529.20,388.74 531.25,388.31 533.31,387.88 535.36,387.44 537.41,387.01 539.46,386.57 541.52,386.14 543.57,385.71 545.62,385.27 547.67,384.84 549.72,384.40 551.78,383.97 553.83,383.53 555.88,383.10 557.93,382.66 559.98,382.23 562.04,381.79 564.09,381.36 566.14,380.92 568.19,380.48 570.24,380.05 572.30,379.61 574.35,379.17 576.40,378.74 578.45,378.30 580.51,377.86 582.56,377.42 584.61,376.99 586.66,376.55 588.71,376.11 590.77,375.67 592.82,375.23 594.87,374.79 596.92,374.35 598.97,373.91 601.03,373.47 603.08,373.03 605.13,372.59 607.18,372.15 609.23,371.71 611.29,371.27 613.34,370.83 615.39,370.39 617.44,369.95 619.49,369.51 621.55,369.06 623.60,368.62 625.65,368.18 627.70,367.73 629.76,367.29 631.81,366.85 633.86,366.40 635.91,365.96 637.96,365.51 640.02,365.07 642.07,364.62 644.12,364.18 646.17,363.73 648.22,363.29 650.28,362.84 652.33,362.39 654.38,361.95 656.43,361.50 658.48,361.05 660.54,360.60 662.59,360.15 664.64,359.70 666.69,359.25 668.75,358.80 670.80,358.35 672.85,357.90 674.90,357.45 676.95,357.00 679.01,356.55 681.06,356.10 683.11,355.64 685.16,355.19 687.21,354.74 689.27,354.28 691.32,353.83 693.37,353.37 695.42,352.92 697.47,352.46 699.53,352.01 701.58,351.55 703.63,351.09 705.68,350.63 707.74,350.18 709.79,349.72 711.84,349.26 713.89,348.80 715.94,348.34 718.00,347.88 720.05,347.41 722.10,346.95 724.15,346.49 726.20,346.03 728.26,345.56 730.31,345.10 732.36,344.63 734.41,344.17 736.46,343.70 738.52,343.24 740.57,342.77 742.62,342.30 744.67,341.83 746.73,341.36 748.78,340.89 750.83,340.42 752.88,339.95 754.93,339.48 756.99,339.01 759.04,338.53 761.09,338.06 763.14,337.59 765.19,337.11 767.25,336.64 769.30,336.16 771.35,335.68 773.40,335.20 775.45,334.72 777.51,334.24 779.56,333.76 781.61,333.28 783.66,332.80 785.72,332.32 787.77,331.83 789.82,331.35 791.87,330.87 793.92,330.38 795.98,329.89 798.03,329.40 800.08,328.92 802.13,328.43 804.18,327.94 806.24,327.45 808.29,326.95 810.34,326.46 812.39,325.97 814.44,325.47 816.50,324.98 818.55,324.48 820.60,323.98 822.65,323.48 824.71,322.99 826.76,322.48 828.81,321.98 830.86,321.48 832.91,320.98 834.97,320.47 837.02,319.97 839.07,319.46 841.12,318.95 843.17,318.45 845.23,317.94 847.28,317.43 849.33,316.92 851.38,316.40 853.43,315.89 855.49,315.37 857.54,314.86 859.59,314.34 861.64,313.82 863.70,313.30 865.75,312.78 867.80,312.26 869.85,311.74 871.90,311.21 873.96,310.69 876.01,310.16 878.06,309.64 880.11,309.11 882.16,308.58 884.22,308.05 886.27,307.51 888.32,306.98 890.37,306.45 892.42,305.91 894.48,305.37 896.53,304.83 898.58,304.29 900.63,303.75 902.69,303.21 904.74,302.66 906.79,302.12 908.84,301.57 910.89,301.02 912.95,300.48 915.00,299.92 917.05,299.37 919.10,298.82 921.15,298.26 923.21,297.71 925.26,297.15 927.31,296.59 929.36,296.03 931.41,295.47 933.47,294.90 935.52,294.34 937.57,293.77 939.62,293.20 941.68,292.63 943.73,292.06 945.78,291.49 947.83,290.91 949.88,290.34 951.94,289.76 953.99,289.18 956.04,288.60 958.09,288.02 960.14,287.43 962.20,286.85 964.25,286.26 966.30,285.67 968.35,285.08 970.40,284.49 972.46,283.90 974.51,283.30 976.56,282.70 978.61,282.11 980.67,281.51 982.72,280.90 984.77,280.30 986.82,279.69 988.87,279.09 990.93,278.48 992.98,277.87 995.03,277.25 997.08,276.64 999.13,276.02 1001.19,275.40 1003.24,274.78 1005.29,274.16 1007.34,273.54 1009.39,272.91 1011.45,272.28 1013.50,271.65 1015.55,271.02 1017.60,270.39 1019.66,269.75 1021.71,269.12 1023.76,268.48 1025.81,267.84 1027.86,267.19 1029.92,266.55 1031.97,265.90 1034.02,265.25 1036.07,264.60 1038.12,263.95 1040.18,263.29 1042.23,262.64 1044.28,261.98 1046.33,261.32 1048.38,260.65 1050.44,259.99 1052.49,259.32 1054.54,258.65 1056.59,257.98 1058.65,257.31 1060.70,256.63 1062.75,255.95 1064.80,255.27 1066.85,254.59 1068.91,253.91 1070.96,253.22 1073.01,252.53 1075.06,251.84 1077.11,251.15 1079.17,250.45 1081.22,249.75 1083.27,249.05 1085.32,248.35 1087.37,247.65 1089.43,246.94 1091.48,246.23 1093.53,245.52 1095.58,244.81 1097.64,244.09 1099.69,243.37 1101.74,242.65 1103.79,241.93 1105.84,241.20 1107.90,240.48 1109.95,239.75 1112.00,239.01" stroke="#ff7f0e" stroke-dasharray="14.0 7.19" stroke-dashoffset="5.1"/>
<polyline points="214.30,38.05 216.10,40.80 217.90,43.54 219.70,46.25 221.50,48.95 223.29,51.63 225.09,54.30 226.89,56.95 228.69,59.58 230.49,62.20 232.29,64.80 234.09,67.39 235.89,69.96 237.69,72.51 239.49,75.05 241.28,77.57 243.08,80.08 244.88,82.57 246.68,85.05 248.48,87.51 250.28,89.96 252.08,92.39 253.88,94.80 255.68,97.21 257.48,99.59 259.27,101.97 261.07,104.33 262.87,106.67 264.67,109.00 266.47,111.32 268.27,113.62 270.07,115.91 271.87,118.18 273.67,120.44 275.47,122.69 277.26,124.92 279.06,127.14 280.86,129.35 282.66,131.55 284.46,133.73 286.26,135.89 288.06,138.05 289.86,140.19 291.66,142.32 293.46,144.44 295.25,146.54 297.05,148.63 298.85,150.71 300.65,152.78 302.45,154.84 304.25,156.88 306.05,158.91 307.85,160.93 309.65,162.94 311.45,164.93 313.24,166.91 315.04,168.89 316.84,170.85 318.64,172.80 320.44,174.73 322.24,176.66 324.04,178.58 325.84,180.48 327.64,182.37 329.44,184.26 331.23,186.13 333.03,187.99 334.83,189.84 336.63,191.68 338.43,193.51 340.23,195.32 342.03,197.13 343.83,198.93 345.63,200.72 347.43,202.49 349.22,204.26 351.02,206.02 352.82,207.77 354.62,209.50 356.42,211.23 358.22,212.95 360.02,214.66 361.82,216.36 363.62,218.04 365.42,219.72 367.21,221.39 369.01,223.06 370.81,224.71 372.61,226.35 374.41,227.98 376.21,229.61 378.01,231.22 379.81,232.83 381.61,234.43 383.41,236.02 385.20,237.60 387.00,239.17 388.80,240.73 390.60,242.29 392.40,243.83 394.20,245.37 396.00,246.90 397.80,248.42 399.60,249.93 401.40,251.44 403.19,252.93 404.99,254.42 406.79,255.90 408.59,257.37 410.39,258.84 412.19,260.30 413.99,261.75 415.79,263.19 417.59,264.62 419.39,266.05 421.18,267.47 422.98,268.88 424.78,270.28 426.58,271.68 428.38,273.07 430.18,274.45 431.98,275.82 433.78,277.19 435.58,278.55 437.38,279.90 439.17,281.25 440.97,282.59 442.77,283.92 444.57,285.25 446.37,286.57 448.17,287.88 449.97,289.18 451.77,290.48 453.57,291.78 455.37,293.06 457.16,294.34 458.96,295.61 460.76,296.88 462.56,298.14 464.36,299.39 466.16,300.64 467.96,301.88 469.76,303.12 471.56,304.34 473.36,305.57 475.15,306.78 476.95,307.99 478.75,309.20 480.55,310.40 482.35,311.59 484.15,312.78 485.95,313.96 487.75,315.13 489.55,316.30 491.35,317.47 493.14,318.62 494.94,319.78 496.74,320.92 498.54,322.06 500.34,323.20 502.14,324.33 503.94,325.45 505.74,326.57 507.54,327.69 509.34,328.80 511.13,329.90 512.93,331.00 514.73,332.09 516.53,333.18 518.33,334.26 520.13,335.34 521.93,336.41 523.73,337.48 525.53,338.54 527.33,339.60 529.12,340.65 530.92,341.70 532.72,342.74 534.52,343.78 536.32,344.81 538.12,345.84 539.92,346.87 541.72,347.88 543.52,348.90 545.32,349.91 547.11,350.91 548.91,351.91 550.71,352.91 552.51,353.90 554.31,354.89 556.11,355.87 557.91,356.84 559.71,357.82 561.51,358.79 563.31,359.75 565.10,360.71 566.90,361.67 568.70,362.62 570.50,363.56 572.30,364.51 574.10,365.45 575.90,366.38 577.70,367.31 579.50,368.24 581.30,369.16 583.09,370.08 584.89,370.99 586.69,371.90 588.49,372.80 590.29,373.71 592.09,374.60 593.89,375.50 595.69,376.39 597.49,377.27 599.29,378.15 601.08,379.03 602.88,379.91 604.68,380.78 606.48,381.64 608.28,382.51 610.08,383.36 611.88,384.22 613.68,385.07 615.48,385.92 617.28,386.76 619.07,387.60 620.87,388.44 622.67,389.27 624.47,390.10 626.27,390.93 628.07,391.75 629.87,392.57 631.67,393.38 633.47,394.20 635.27,395.00 637.06,395.81 638.86,396.61 640.66,397.41 642.46,398.20 644.26,398.99 646.06,399.78 647.86,400.56 649.66,401.34 651.46,402.12 653.26,402.89 655.05,403.67 656.85,404.43 658.65,405.20 660.45,405.96 662.25,406.72 664.05,407.47 665.85,408.22 667.65,408.97 669.45,409.71 671.25,410.45 673.04,411.19 674.84,411.93 676.64,412.66 678.44,413.39 680.24,414.11 682.04,414.84 683.84,415.56 685.64,416.27 687.44,416.99 689.24,417.70 691.03,418.40 692.83,419.11 694.63,419.81 696.43,420.51 698.23,421.20 700.03,421.90 701.83,422.59 703.63,423.27 705.43,423.96 707.23,424.64 709.02,425.31 710.82,425.99 712.62,426.66 714.42,427.33 716.22,428.00 718.02,428.66 719.82,429.32 721.62,429.98 723.42,430.63 725.22,431.28 727.01,431.93 728.81,432.58 730.61,433.22 732.41,433.86 734.21,434.50 736.01,435.14 737.81,435.77 739.61,436.40 741.41,437.03 743.21,437.65 745.00,438.27 746.80,438.89 748.60,439.51 750.40,440.12 752.20,440.73 754.00,441.34 755.80,441.95 757.60,442.55 759.40,443.15 761.20,443.75 762.99,444.35 764.79,444.94 766.59,445.53 768.39,446.12 770.19,446.70 771.99,447.29 773.79,447.87 775.59,448.44 777.39,449.02 779.19,449.59 780.98,450.16 782.78,450.73 784.58,451.29 786.38,451.86 788.18,452.42 789.98,452.97 791.78,453.53 793.58,454.08 795.38,454.63 797.18,455.18 798.97,455.73 800.77,456.27 802.57,456.81 804.37,457.35 806.17,457.89 807.97,458.42 809.77,458.95 811.57,459.48 813.37,460.01 815.17,460.53 816.96,461.05 818.76,461.57 820.56,462.09 822.36,462.61 824.16,463.12 825.96,463.63 827.76,464.14 829.56,464.65 831.36,465.15 833.16,465.65 834.95,466.15 836.75,466.65 838.55,467.14 840.35,467.64 842.15,468.13 843.95,468.62 845.75,469.10 847.55,469.59 849.35,470.07 851.15,470.55 852.94,471.03 854.74,471.51 856.54,471.98 858.34,472.45 860.14,472.92 861.94,473.39 863.74,473.85 865.54,474.32 867.34,474.78 869.14,475.24 870.93,475.70 872.73,476.15 874.53,476.61 876.33,477.06 878.13,477.51 879.93,477.96 881.73,478.40 883.53,478.85 885.33,479.29 887.13,479.73 888.92,480.17 890.72,480.60 892.52,481.04 894.32,481.47 896.12,481.90 897.92,482.33 899.72,482.76 901.52,483.19 903.32,483.61 905.12,484.03 906.91,484.45 908.71,484.87 910.51,485.29 912.31,485.70 914.11,486.12 915.91,486.53 917.71,486.94 919.51,487.35 921.31,487.75 923.11,488.16 924.90,488.56 926.70,488.96 928.50,489.36 930.30,489.76 932.10,490.16 933.90,490.56 935.70,490.95 937.50,491.34 939.30,491.74 941.10,492.13 942.89,492.51 944.69,492.90 946.49,493.29 948.29,493.67 950.09,494.05 951.89,494.43 953.69,494.81 955.49,495.19 957.29,495.57 959.09,495.95 960.88,496.32 962.68,496.70 964.48,497.07 966.28,497.44 968.08,497.81 969.88,498.18 971.68,498.54 973.48,498.91 975.28,499.28 977.08,499.64 978.87,500.00 980.67,500.37 982.47,500.73 984.27,501.09 986.07,501.45 987.87,501.80 989.67,502.16 991.47,502.52 993.27,502.87 995.07,503.23 996.86,503.58 998.66,503.93 1000.46,504.28 1002.26,504.64 1004.06,504.99 1005.86,505.33 1007.66,505.68 1009.46,506.03 1011.26,506.38 1013.06,506.73 1014.85,507.07 1016.65,507.42 1018.45,507.76 1020.25,508.11 1022.05,508.45 1023.85,508.79 1025.65,509.14 1027.45,509.48 1029.25,509.82 1031.05,510.16 1032.84,510.50 1034.64,510.84 1036.44,511.18 1038.24,511.52 1040.04,511.86 1041.84,512.20 1043.64,512.54 1045.44,512.88 1047.24,513.22 1049.04,513.56 1050.83,513.90 1052.63,514.24 1054.43,514.58 1056.23,514.92 1058.03,515.26 1059.83,515.60 1061.63,515.93 1063.43,516.27 1065.23,516.61 1067.03,516.95 1068.82,517.29 1070.62,517.63 1072.42,517.97 1074.22,518.32 1076.02,518.66 1077.82,519.00 1079.62,519.34 1081.42,519.68 1083.22,520.03 1085.02,520.37 1086.81,520.72 1088.61,521.06 1090.41,521.41 1092.21,521.75 1094.01,522.10 1095.81,522.45 1097.61,522.80 1099.41,523.15 1101.21,523.50 1103.01,523.85 1104.80,524.20 1106.60,524.55 1108.40,524.91 1110.20,525.26 1112.00,525.62" stroke="#1f77b4" stroke-dasharray="4.0 6.6" stroke-dashoffset="0.22"/>
<polyline points="88.00,27.07 90.05,28.77 92.10,30.49 94.16,32.21 96.21,33.93 98.26,35.66 100.31,37.40 102.36,39.15 104.42,40.90 106.47,42.66 108.52,44.42 110.57,46.19 112.63,47.96 114.68,49.74 116.73,51.52 118.78,53.31 120.83,55.09 122.89,56.89 124.94,58.68 126.99,60.48 129.04,62.28 131.09,64.09 133.15,65.89 135.20,67.70 137.25,69.51 139.30,71.32 141.35,73.13 143.41,74.94 145.46,76.76 147.51,78.57 149.56,80.39 151.62,82.20 153.67,84.02 155.72,85.83 157.77,87.65 159.82,89.46 161.88,91.28 163.93,93.09 165.98,94.90 168.03,96.71 170.08,98.52 172.14,100.33 174.19,102.13 176.24,103.93 178.29,105.74 180.34,107.53 182.40,109.33 184.45,111.13 186.50,112.92 188.55,114.71 190.61,116.49 192.66,118.28 194.71,120.05 196.76,121.83 198.81,123.60 200.87,125.37 202.92,127.14 204.97,128.90 207.02,130.66 209.07,132.41 211.13,134.16 213.18,135.91 215.23,137.65 217.28,139.39 219.33,141.12 221.39,142.85 223.44,144.57 225.49,146.29 227.54,148.00 229.60,149.71 231.65,151.42 233.70,153.11 235.75,154.81 237.80,156.50 239.86,158.18 241.91,159.86 243.96,161.53 246.01,163.20 248.06,164.86 250.12,166.51 252.17,168.16 254.22,169.81 256.27,171.45 258.32,173.08 260.38,174.71 262.43,176.33 264.48,177.94 266.53,179.55 268.59,181.16 270.64,182.75 272.69,184.35 274.74,185.93 276.79,187.51 278.85,189.08 280.90,190.65 282.95,192.21 285.00,193.77 287.05,195.32 289.11,196.86 291.16,198.39 293.21,199.92 295.26,201.45 297.31,202.96 299.37,204.48 301.42,205.98 303.47,207.48 305.52,208.97 307.58,210.46 309.63,211.94 311.68,213.41 313.73,214.87 315.78,216.34 317.84,217.79 319.89,219.24 321.94,220.68 323.99,222.11 326.04,223.54 328.10,224.97 330.15,226.38 332.20,227.79 334.25,229.20 336.30,230.59 338.36,231.99 340.41,233.37 342.46,234.75 344.51,236.12 346.57,237.49 348.62,238.85 350.67,240.20 352.72,241.55 354.77,242.90 356.83,244.23 358.88,245.56 360.93,246.89 362.98,248.21 365.03,249.52 367.09,250.83 369.14,252.13 371.19,253.42 373.24,254.71 375.29,255.99 377.35,257.27 379.40,258.54 381.45,259.81 383.50,261.07 385.56,262.33 387.61,263.58 389.66,264.82 391.71,266.06 393.76,267.29 395.82,268.52 397.87,269.74 399.92,270.96 401.97,272.17 404.02,273.38 406.08,274.58 408.13,275.78 410.18,276.97 412.23,278.15 414.28,279.33 416.34,280.51 418.39,281.68 420.44,282.84 422.49,284.01 424.55,285.16 426.60,286.31 428.65,287.46 430.70,288.60 432.75,289.74 434.81,290.87 436.86,292.00 438.91,293.12 440.96,294.24 443.01,295.36 445.07,296.47 447.12,297.57 449.17,298.67 451.22,299.77 453.27,300.86 455.33,301.95 457.38,303.03 459.43,304.11 461.48,305.19 463.54,306.26 465.59,307.33 467.64,308.40 469.69,309.46 471.74,310.51 473.80,311.56 475.85,312.61 477.90,313.66 479.95,314.70 482.00,315.74 484.06,316.77 486.11,317.80 488.16,318.83 490.21,319.85 492.26,320.87 494.32,321.89 496.37,322.91 498.42,323.92 500.47,324.92 502.53,325.93 504.58,326.93 506.63,327.93 508.68,328.92 510.73,329.91 512.79,330.90 514.84,331.89 516.89,332.87 518.94,333.85 520.99,334.82 523.05,335.80 525.10,336.77 527.15,337.74 529.20,338.70 531.25,339.67 533.31,340.63 535.36,341.59 537.41,342.54 539.46,343.49 541.52,344.44 543.57,345.39 545.62,346.34 547.67,347.28 549.72,348.22 551.78,349.16 553.83,350.09 555.88,351.03 557.93,351.96 559.98,352.89 562.04,353.82 564.09,354.74 566.14,355.66 568.19,356.58 570.24,357.50 572.30,358.42 574.35,359.33 576.40,360.25 578.45,361.16 580.51,362.07 582.56,362.97 584.61,363.88 586.66,364.78 588.71,365.68 590.77,366.58 592.82,367.48 594.87,368.37 596.92,369.27 598.97,370.16 601.03,371.05 603.08,371.94 605.13,372.83 607.18,373.71 609.23,374.60 611.29,375.48 613.34,376.36 615.39,377.24 617.44,378.11 619.49,378.99 621.55,379.86 623.60,380.74 625.65,381.61 627.70,382.48 629.76,383.35 631.81,384.21 633.86,385.08 635.91,385.94 637.96,386.80 640.02,387.66 642.07,388.52 644.12,389.38 646.17,390.24 648.22,391.09 650.28,391.94 652.33,392.80 654.38,393.65 656.43,394.49 658.48,395.34 660.54,396.19 662.59,397.03 664.64,397.88 666.69,398.72 668.75,399.56 670.80,400.40 672.85,401.23 674.90,402.07 676.95,402.91 679.01,403.74 681.06,404.57 683.11,405.40 685.16,406.23 687.21,407.06 689.27,407.88 691.32,408.71 693.37,409.53 695.42,410.35 697.47,411.17 699.53,411.99 701.58,412.81 703.63,413.62 705.68,414.44 707.74,415.25 709.79,416.06 711.84,416.87 713.89,417.68 715.94,418.48 718.00,419.29 720.05,420.09 722.10,420.89 724.15,421.69 726.20,422.49 728.26,423.28 730.31,424.08 732.36,424.87 734.41,425.66 736.46,426.45 738.52,427.24 740.57,428.03 742.62,428.81 744.67,429.59 746.73,430.37 748.78,431.15 750.83,431.93 752.88,432.70 754.93,433.48 756.99,434.25 759.04,435.02 761.09,435.79 763.14,436.55 765.19,437.31 767.25,438.08 769.30,438.84 771.35,439.59 773.40,440.35 775.45,441.10 777.51,441.85 779.56,442.60 781.61,443.35 783.66,444.09 785.72,444.84 787.77,445.58 789.82,446.31 791.87,447.05 793.92,447.78 795.98,448.51 798.03,449.24 800.08,449.97 802.13,450.69 804.18,451.42 806.24,452.14 808.29,452.85 810.34,453.57 812.39,454.28 814.44,454.99 816.50,455.70 818.55,456.40 820.60,457.10 822.65,457.80 824.71,458.50 826.76,459.19 828.81,459.88 830.86,460.57 832.91,461.26 834.97,461.94 837.02,462.62 839.07,463.30 841.12,463.97 843.17,464.65 845.23,465.32 847.28,465.98 849.33,466.65 851.38,467.31 853.43,467.96 855.49,468.62 857.54,469.27 859.59,469.92 861.64,470.57 863.70,471.21 865.75,471.85 867.80,472.49 869.85,473.12 871.90,473.75 873.96,474.38 876.01,475.01 878.06,475.63 880.11,476.25 882.16,476.86 884.22,477.48 886.27,478.09 888.32,478.69 890.37,479.30 892.42,479.90 894.48,480.50 896.53,481.09 898.58,481.68 900.63,482.27 902.69,482.85 904.74,483.44 906.79,484.01 908.84,484.59 910.89,485.16 912.95,485.73 915.00,486.30 917.05,486.86 919.10,487.42 921.15,487.98 923.21,488.53 925.26,489.08 927.31,489.63 929.36,490.17 931.41,490.72 933.47,491.25 935.52,491.79 937.57,492.32 939.62,492.85 941.68,493.38 943.73,493.90 945.78,494.42 947.83,494.94 949.88,495.46 951.94,495.97 953.99,496.48 956.04,496.98 958.09,497.49 960.14,497.99 962.20,498.49 964.25,498.98 966.30,499.48 968.35,499.97 970.40,500.45 972.46,500.94 974.51,501.42 976.56,501.90 978.61,502.38 980.67,502.86 982.72,503.33 984.77,503.80 986.82,504.27 988.87,504.74 990.93,505.20 992.98,505.67 995.03,506.13 997.08,506.59 999.13,507.05 1001.19,507.50 1003.24,507.96 1005.29,508.41 1007.34,508.86 1009.39,509.31 1011.45,509.76 1013.50,510.21 1015.55,510.65 1017.60,511.10 1019.66,511.54 1021.71,511.99 1023.76,512.43 1025.81,512.87 1027.86,513.31 1029.92,513.75 1031.97,514.19 1034.02,514.63 1036.07,515.08 1038.12,515.52 1040.18,515.96 1042.23,516.40 1044.28,516.84 1046.33,517.28 1048.38,517.72 1050.44,518.16 1052.49,518.61 1054.54,519.05 1056.59,519.50 1058.65,519.94 1060.70,520.39 1062.75,520.84 1064.80,521.29 1066.85,521.75 1068.91,522.20 1070.96,522.66 1073.01,523.12 1075.06,523.58 1077.11,524.05 1079.17,524.51 1081.22,524.99 1083.27,525.46 1085.32,525.94 1087.37,526.42 1089.43,526.90 1091.48,527.39 1093.53,527.89 1095.58,528.38 1097.64,528.89 1099.69,529.39 1101.74,529.91 1103.79,530.42 1105.84,530.95 1107.90,531.48 1109.95,532.01 1112.00,532.55" stroke="#ff7f0e" stroke-dasharray="14.0 7.19" stroke-dashoffset="15.05"/>
</g>
<g>
<g stroke="#000" fill="none" stroke-linecap="square">
<line x1="88.9" y1="22.1" x2="88.9" y2="638.65" stroke-width="2.13"/>
<line x1="1109.5" y1="22.1" x2="1109.5" y2="638.65" stroke-width="2.13"/>
<line x1="88.9" y1="22.1" x2="1109.5" y2="22.1" stroke-width="2.13"/>
<line x1="88.9" y1="638.65" x2="1109.5" y2="638.65" stroke-width="2.8"/>
</g>
<g stroke="#000" stroke-width="2.13"><line x1="151.50" y1="638.65" x2="151.50" y2="647.45"/><line x1="375.20" y1="638.65" x2="375.20" y2="647.45"/><line x1="598.95" y1="638.65" x2="598.95" y2="647.45"/><line x1="823.20" y1="638.65" x2="823.20" y2="647.45"/><line x1="1046.40" y1="638.65" x2="1046.40" y2="647.45"/><line x1="79.50" y1="638.65" x2="88.9" y2="638.65"/><line x1="79.50" y1="515.50" x2="88.9" y2="515.50"/><line x1="79.50" y1="391.70" x2="88.9" y2="391.70"/><line x1="79.50" y1="268.60" x2="88.9" y2="268.60"/><line x1="79.50" y1="145.80" x2="88.9" y2="145.80"/><line x1="79.50" y1="22.10" x2="88.9" y2="22.10"/></g>
</g>
<rect x="949.2" y="35.6" width="147.2" height="86.1" rx="5.3" fill="#fff" fill-opacity="0.8" stroke="#cccccc" stroke-opacity="0.8" stroke-width="2.2"/>
<line x1="960.0" y1="57.8" x2="1013.5" y2="57.8" stroke="#1f77b4" stroke-width="4.00" stroke-dasharray="4.0 6.6"/>
<line x1="960.0" y1="96.7" x2="1013.5" y2="96.7" stroke="#ff7f0e" stroke-width="4.00" stroke-dasharray="14.0 7.19"/>
<g fill="#000" font-size="27.2" font-family="Liberation Sans, sans-serif"><text transform="translate(54.48,648.45) scale(0.9871,1.0389)">1</text><text transform="translate(54.39,525.30) scale(0.9962,1.0421)">2</text><text transform="translate(54.27,401.60) scale(0.9925,1.0473)">3</text><text transform="translate(53.29,278.40) scale(1.0336,1.0389)">4</text><text transform="translate(54.46,155.70) scale(0.9754,1.0442)">5</text><text transform="translate(53.20,32.00) scale(1.0696,1.0473)">6</text><text transform="translate(111.24,679.57) scale(1.2632,1.1416)">−</text><text transform="translate(133.12,677.70) scale(1.0335,1.0473)">0</text><text transform="translate(149.64,677.60) scale(1.0608,1.1371)">.</text><text transform="translate(158.78,677.60) scale(0.9871,1.0389)">1</text><text transform="translate(175.53,677.70) scale(1.0335,1.0473)">0</text><text transform="translate(335.22,679.57) scale(1.2632,1.1416)">−</text><text transform="translate(357.10,677.70) scale(1.0335,1.0473)">0</text><text transform="translate(373.62,677.60) scale(1.0608,1.1371)">.</text><text transform="translate(382.54,677.70) scale(1.0335,1.0473)">0</text><text transform="translate(399.84,677.70) scale(0.9754,1.0442)">5</text><text transform="translate(569.93,677.70) scale(1.0335,1.0473)">0</text><text transform="translate(586.45,677.60) scale(1.0608,1.1371)">.</text><text transform="translate(595.37,677.70) scale(1.0335,1.0473)">0</text><text transform="translate(612.34,677.70) scale(1.0335,1.0473)">0</text><text transform="translate(794.46,677.70) scale(1.0335,1.0473)">0</text><text transform="translate(810.98,677.60) scale(1.0608,1.1371)">.</text><text transform="translate(819.90,677.70) scale(1.0335,1.0473)">0</text><text transform="translate(837.20,677.70) scale(0.9754,1.0442)">5</text><text transform="translate(1017.38,677.70) scale(1.0335,1.0473)">0</text><text transform="translate(1033.90,677.60) scale(1.0608,1.1371)">.</text><text transform="translate(1043.05,677.60) scale(0.9871,1.0389)">1</text><text transform="translate(1059.79,677.70) scale(1.0335,1.0473)">0</text><text transform="translate(472.09,714.10) scale(0.9692,1.0473)">O</text><text transform="translate(492.95,714.00) scale(1.2873,1.0294)">f</text><text transform="translate(502.34,714.00) scale(1.2873,1.0294)">f</text><text transform="translate(512.35,714.10) scale(0.9398,1.0303)">s</text><text transform="translate(525.75,714.10) scale(1.0590,1.0276)">e</text><text transform="translate(542.09,713.78) scale(1.3103,1.0521)">t</text><text transform="translate(561.53,714.00) scale(1.0022,1.0280)">i</text><text transform="translate(568.77,714.00) scale(1.0570,1.0204)">n</text><text transform="translate(594.31,714.10) scale(0.8740,1.0473)">S</text><text transform="translate(610.96,714.10) scale(1.0570,1.0462)">u</text><text transform="translate(627.61,714.00) scale(1.2561,1.0204)">r</text><text transform="translate(638.21,713.84) scale(1.0656,1.0119)">g</text><text transform="translate(655.13,714.10) scale(1.0590,1.0276)">e</text><text transform="translate(680.08,712.22) scale(1.0214,0.9378)">[</text><text transform="translate(690.57,714.00) scale(1.1170,1.0204)">m</text><text transform="translate(718.52,712.22) scale(1.0214,0.9378)">]</text><g transform="translate(36.9,330.75) rotate(-90)"><text transform="translate(-115.86,0.10) scale(0.9101,1.0473)">C</text><text transform="translate(-96.90,0.10) scale(0.8816,1.0276)">a</text><text transform="translate(-80.59,0.10) scale(1.0666,1.0332)">b</text><text transform="translate(-63.54,0.00) scale(1.0022,1.0280)">l</text><text transform="translate(-56.56,0.10) scale(1.0590,1.0276)">e</text><text transform="translate(-32.65,0.00) scale(1.0693,1.0389)">T</text><text transform="translate(-19.92,0.10) scale(1.0590,1.0276)">e</text><text transform="translate(-3.24,0.00) scale(1.0570,1.0204)">n</text><text transform="translate(13.88,0.10) scale(0.9398,1.0303)">s</text><text transform="translate(27.73,0.00) scale(1.0022,1.0280)">i</text><text transform="translate(34.73,0.10) scale(1.0422,1.0276)">o</text><text transform="translate(51.27,0.00) scale(1.0570,1.0204)">n</text><text transform="translate(76.45,-1.78) scale(1.0214,0.9378)">[</text><text transform="translate(87.00,0.00) scale(0.9684,1.0389)">N</text><text transform="translate(108.87,-1.78) scale(1.0214,0.9378)">]</text></g><text transform="translate(308.34,145.90) scale(0.9101,1.0473)">C</text><text transform="translate(327.30,145.90) scale(0.8816,1.0276)">a</text><text transform="translate(343.61,145.90) scale(1.0666,1.0332)">b</text><text transform="translate(360.66,145.80) scale(1.0022,1.0280)">l</text><text transform="translate(367.65,145.90) scale(1.0590,1.0276)">e</text><text transform="translate(393.17,145.80) scale(0.9871,1.0389)">1</text><text transform="translate(800.54,268.70) scale(0.9101,1.0473)">C</text><text transform="translate(819.50,268.70) scale(0.8816,1.0276)">a</text><text transform="translate(835.81,268.70) scale(1.0666,1.0332)">b</text><text transform="translate(852.86,268.60) scale(1.0022,1.0280)">l</text><text transform="translate(859.85,268.70) scale(1.0590,1.0276)">e</text><text transform="translate(885.07,268.60) scale(0.9962,1.0421)">2</text><text transform="translate(1034.75,64.59) scale(0.9692,0.9626)">Q</text><text transform="translate(1056.17,66.20) scale(0.8740,1.0473)">S</text><text transform="translate(1034.74,105.80) scale(0.9101,1.0473)">C</text><text transform="translate(1053.28,105.70) scale(0.9876,1.0389)">A</text><text transform="translate(1068.56,105.70) scale(1.0693,1.0389)">T</text></g>
</svg>
</div>
</body></html>
